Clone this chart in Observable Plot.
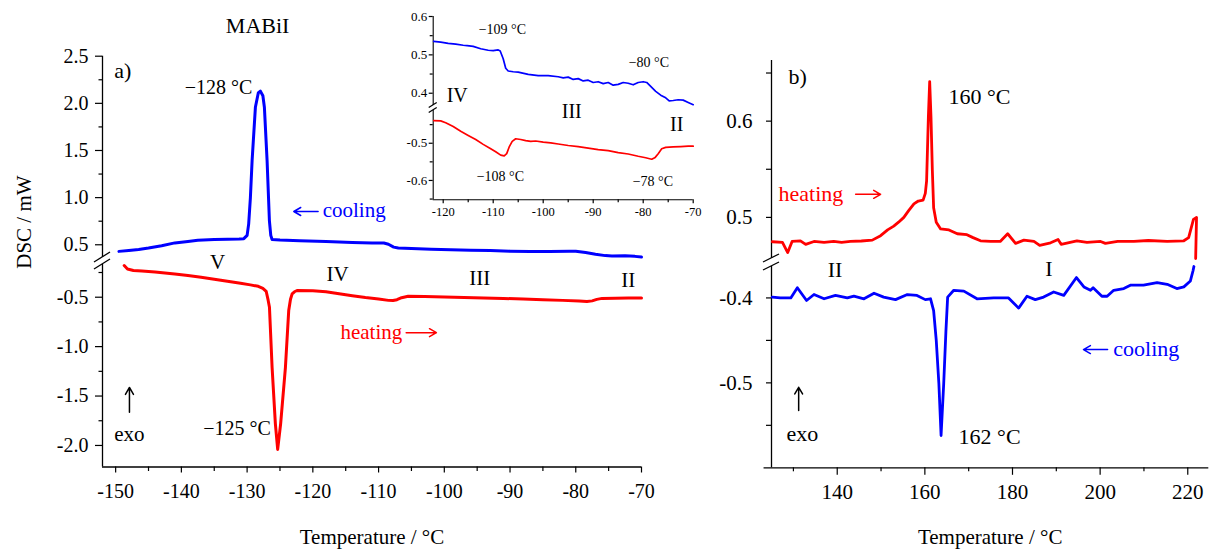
<!DOCTYPE html>
<html><head><meta charset="utf-8">
<script src="https://cdn.jsdelivr.net/npm/d3@7"></script>
<script src="https://cdn.jsdelivr.net/npm/@observablehq/plot@0.6"></script>
<style>
html,body{margin:0;padding:0;background:#fff;}
#chart{position:relative;width:1213px;height:550px;overflow:hidden;font-family:"Liberation Serif",serif;}
</style></head><body><div id="chart"></div>
<script>
const BLUE = "#0000ff", RED = "#ff0000";

// ---------- panel a) main: cooling (upper) ----------
const coolMainT = [-149.5,-148,-146.5,-145,-143,-141,-139,-137.5,-135,-133,-131.2,-130.5,-130,-129.76,-129.5,-129.24,-128.74,-128.3,-127.98,-127.6,-127.37,-126.96,-126.61,-126.4,-126.2,-125,-122,-118,-114,-111,-109.2,-108.5,-107.7,-107,-105,-102,-99,-96,-93,-90,-87,-84,-81,-80,-78.5,-77,-75.5,-74.5,-72.5,-71,-70];
const coolMainV = [0.43,0.44,0.45,0.465,0.49,0.52,0.535,0.548,0.555,0.558,0.56,0.565,0.6,0.722,1.0,1.393,1.958,2.11,2.13,2.08,1.958,1.393,0.757,0.6,0.556,0.55,0.543,0.535,0.525,0.52,0.518,0.505,0.475,0.465,0.46,0.452,0.447,0.443,0.438,0.432,0.428,0.428,0.432,0.432,0.418,0.40,0.385,0.38,0.383,0.377,0.37];
// ---------- panel a) main: heating (lower) ----------
const heatMainT = [-148.7,-148.2,-147.3,-146,-144,-141,-139,-137,-135,-133,-131,-129.5,-128.3,-127.6,-127.1,-126.8,-126.6,-126.2,-125.7,-125.35,-124.9,-124.17,-123.67,-123.4,-123.15,-122.8,-122.4,-120,-118,-116,-114,-112,-110,-108.5,-107.8,-107.2,-106.5,-105.5,-103,-100,-97,-94,-91,-88,-85,-82,-79.5,-78.3,-77.5,-76.8,-76,-74,-72,-70];
const heatMainV = [-0.18,-0.215,-0.23,-0.235,-0.245,-0.265,-0.28,-0.298,-0.318,-0.338,-0.358,-0.375,-0.39,-0.41,-0.44,-0.53,-0.601,-1.209,-1.781,-2.04,-1.781,-1.209,-0.635,-0.52,-0.466,-0.445,-0.432,-0.435,-0.445,-0.465,-0.485,-0.503,-0.518,-0.532,-0.534,-0.525,-0.505,-0.49,-0.493,-0.497,-0.502,-0.507,-0.513,-0.518,-0.525,-0.532,-0.539,-0.543,-0.537,-0.522,-0.512,-0.51,-0.508,-0.508];

// ---------- inset ----------
const coolInsT = [-121.9,-120.5,-119,-117.5,-116,-115.2,-114,-112.5,-111,-110,-109,-108.6,-108,-107.5,-107,-106,-105,-103,-101,-99,-97,-96,-95,-94,-93,-92,-91,-90,-89,-88,-87,-86,-85,-84,-83,-82,-81,-80,-79.3,-78.5,-77.5,-76.5,-75.5,-74.8,-74,-73,-72,-71,-70];
const coolInsV = [0.535,0.533,0.530,0.528,0.525,0.524,0.522,0.516,0.512,0.511,0.513,0.51,0.49,0.465,0.458,0.456,0.455,0.449,0.446,0.446,0.443,0.44,0.442,0.436,0.438,0.432,0.434,0.428,0.43,0.425,0.428,0.421,0.423,0.428,0.426,0.422,0.428,0.430,0.428,0.418,0.405,0.395,0.388,0.380,0.381,0.383,0.382,0.376,0.370];
const heatInsT = [-121.9,-120.5,-119.5,-118,-116.5,-115,-113.5,-112,-110.5,-109.5,-108.5,-107.8,-107.3,-106.8,-106.2,-105.5,-104.5,-103.5,-102.5,-101.5,-100,-98.5,-97,-95,-93,-91,-89,-87,-85,-83,-81,-79.5,-78.3,-77.6,-77,-76.3,-75.5,-74,-72.5,-71,-70];
const heatInsV = [-0.439,-0.44,-0.445,-0.455,-0.468,-0.479,-0.49,-0.503,-0.515,-0.523,-0.532,-0.534,-0.528,-0.51,-0.495,-0.488,-0.49,-0.493,-0.495,-0.494,-0.497,-0.499,-0.502,-0.506,-0.509,-0.513,-0.517,-0.52,-0.525,-0.529,-0.535,-0.539,-0.543,-0.538,-0.528,-0.515,-0.511,-0.51,-0.509,-0.508,-0.508];

// ---------- panel b) ----------
const heatBT = [125.2,127.5,128.7,129.7,131.6,132.8,134.7,137,139.2,141,143,145.5,148,149.9,151.5,152.9,154,155.2,156.3,157.5,158.5,159.6,160.1,160.4,160.8,161.1,161.4,161.7,162.0,162.6,163.6,165.5,167.4,169.6,171,172.7,175,177.2,178.9,180.7,182.6,184.9,186.2,188.7,190.4,191.1,194.7,197,200.1,201.2,204,207.7,211,215.3,219.1,220.2,221.3,222,221.8];
const heatBV = [0.4747,0.474,0.4635,0.475,0.4757,0.472,0.475,0.474,0.475,0.474,0.475,0.4755,0.4764,0.481,0.487,0.491,0.495,0.50,0.507,0.514,0.517,0.518,0.525,0.538,0.604,0.641,0.604,0.55,0.510,0.495,0.488,0.487,0.483,0.482,0.479,0.4757,0.475,0.475,0.483,0.473,0.4764,0.475,0.471,0.4736,0.477,0.472,0.4757,0.474,0.475,0.473,0.475,0.475,0.476,0.475,0.4757,0.479,0.498,0.5,0.4573];
const coolBT = [125.2,127,129.4,130.9,133,134.7,137,139.6,142.3,143.8,146.1,148.4,150.6,153.3,156,158.2,160.1,161.3,162,162.6,163.2,163.7,164.3,164.8,165.2,166.6,168.9,171.9,175.7,179.1,181.4,183.3,185.2,187.1,189.4,191.7,194.6,196.3,197.8,198.4,200.4,201.6,203.1,205.4,206.9,209.9,213,215.3,217.5,219.1,220.6,221.2,221.4];
const coolBV = [-0.399,-0.4,-0.4,-0.388,-0.403,-0.396,-0.401,-0.397,-0.4,-0.398,-0.401,-0.3945,-0.399,-0.402,-0.396,-0.397,-0.402,-0.401,-0.415,-0.45,-0.501,-0.562,-0.501,-0.44,-0.399,-0.391,-0.392,-0.401,-0.4,-0.4,-0.412,-0.398,-0.402,-0.399,-0.393,-0.397,-0.376,-0.387,-0.391,-0.388,-0.398,-0.398,-0.391,-0.389,-0.385,-0.385,-0.382,-0.384,-0.389,-0.387,-0.38,-0.368,-0.363];

// ---------- ticks ----------
const aXMajor = [-150,-140,-130,-120,-110,-100,-90,-80,-70];
const aXMinor = [-145,-135,-125,-115,-105,-95,-85,-75];
const aUpMajor = [0.5,1.0,1.5,2.0,2.5], aUpMinor = [0.75,1.25,1.75,2.25];
const aLoMajor = [-0.5,-1.0,-1.5,-2.0], aLoMinor = [-0.25,-0.75,-1.25,-1.75];
const iXMajor = [-120,-110,-100,-90,-80,-70], iXMinor = [-115,-105,-95,-85,-75];
const iUpMajor = [0.4,0.5,0.6], iUpMinor = [0.45,0.55];
const iLoMajor = [-0.5,-0.6], iLoMinor = [-0.45,-0.55,-0.65];
const bXMajor = [140,160,180,200,220], bXMinor = [130,150,170,190,210];
const bUpMajor = [0.5,0.6], bUpMinor = [0.55,0.65];
const bLoMajor = [-0.4,-0.5], bLoMinor = [-0.45,-0.55];

const pts = (T, V) => T.map((t, i) => ({t, v: V[i]}));
const f1 = d => d.toFixed(1);
const fi = d => String(d);

function panel(frame, xDomain, yDomain, marks) {
  const [l, t, r, b] = frame;
  const svg = Plot.plot({
    width: 1213, height: 550,
    marginLeft: l, marginTop: t, marginRight: 1213 - r, marginBottom: 550 - b,
    x: {domain: xDomain, axis: null},
    y: {domain: yDomain, axis: null},
    style: "position:absolute;left:0;top:0;background:transparent;overflow:visible;max-width:none;font-family:'Liberation Serif',serif;color:#000;",
    marks
  });
  document.getElementById("chart").appendChild(svg);
  return svg;
}
function brk(svg, yv, w, h) {
  const sx = svg.scale("x"), sy = svg.scale("y");
  const x = sx.apply(sx.domain[0]), y = sy.apply(yv);
  d3.select(svg).append("line")
    .attr("x1", x - w).attr("y1", y + h).attr("x2", x + w).attr("y2", y - h)
    .attr("stroke", "#000").attr("stroke-width", 1.3);
}
const txt = (items, o) => Plot.text(items, {x: "x", y: "y", text: "s", lineAnchor: "bottom", fill: "#000", ...o});
const yAx = (major, minor, o) => [
  Plot.axisY(major, {anchor: "left", tickSize: o.ts, tickPadding: o.tp, tickFormat: f1, fontSize: o.fs, label: null, strokeWidth: 1.2}),
  Plot.axisY(minor, {anchor: "left", tickSize: o.ms, fill: "none", tickFormat: () => "", label: null, strokeWidth: 1.2})
];
const xAx = (major, minor, o) => [
  Plot.axisX(major, {anchor: "bottom", tickSize: o.ts, tickPadding: o.tp, tickFormat: fi, fontSize: o.fs, label: null, strokeWidth: 1.2}),
  Plot.axisX(minor, {anchor: "bottom", tickSize: o.ms, fill: "none", tickFormat: () => "", label: null, strokeWidth: 1.2})
];

// ===== panel a) upper (cooling) =====
const aX = [-152, -70];
const aU = panel([102, 55.7, 641, 257], aX, [0.365, 2.5], [
  Plot.ruleX([aX[0]], {strokeWidth: 1.3}),
  ...yAx(aUpMajor, aUpMinor, {ts: 7, tp: 7, fs: 20, ms: 3.5}),
  Plot.line(pts(coolMainT, coolMainV), {x: "t", y: "v", stroke: BLUE, strokeWidth: 3}),
  txt([{x: -150.2, y: 2.264, s: "a)"}], {textAnchor: "start", fontSize: 22}),
  txt([{x: -128.4, y: 2.741, s: "MABiI"}], {textAnchor: "middle", fontSize: 22}),
  txt([{x: -129.2, y: 2.104, s: "\u2212128 \u00b0C"}], {textAnchor: "end", fontSize: 20}),
  txt([{x: -118.5, y: 0.79, s: "cooling"}], {textAnchor: "start", fontSize: 21, fill: BLUE}),
  Plot.arrow([{x1: -119.2, x2: -122.9, y: 0.853}], {x1: "x1", x2: "x2", y1: "y", y2: "y", stroke: BLUE, strokeWidth: 1.5, headLength: 8})
]);
brk(aU, 0.365, 8, 5);

// ===== panel a) lower (heating) =====
const aL = panel([102, 264, 641, 466.5], aX, [-2.218, -0.169], [
  Plot.ruleX([aX[0]], {strokeWidth: 1.3}),
  Plot.ruleY([-2.218], {strokeWidth: 1.3}),
  ...yAx(aLoMajor, aLoMinor, {ts: 7, tp: 7, fs: 20, ms: 3.5}),
  ...xAx(aXMajor, aXMinor, {ts: 6, tp: 11, fs: 20, ms: 4.5}),
  Plot.line(pts(heatMainT, heatMainV), {x: "t", y: "v", stroke: RED, strokeWidth: 3}),
  txt([{x: -134.5, y: -0.211, s: "V"}, {x: -116.25, y: -0.332, s: "IV"}, {x: -94.6, y: -0.372, s: "III"}, {x: -72, y: -0.392, s: "II"}], {textAnchor: "middle", fontSize: 21}),
  txt([{x: -115.8, y: -0.927, s: "heating"}], {textAnchor: "start", fontSize: 21, fill: RED}),
  Plot.arrow([{x1: -105.8, x2: -101.2, y: -0.859}], {x1: "x1", x2: "x2", y1: "y", y2: "y", stroke: RED, strokeWidth: 1.5, headLength: 8}),
  txt([{x: -126.4, y: -1.897, s: "\u2212125 \u00b0C"}], {textAnchor: "end", fontSize: 20}),
  txt([{x: -147.9, y: -1.958, s: "exo"}], {textAnchor: "middle", fontSize: 21}),
  Plot.arrow([{x: -147.9, y1: -1.665, y2: -1.413}], {x1: "x", x2: "x", y1: "y1", y2: "y2", stroke: "#000", strokeWidth: 1.5, headLength: 8}),
  Plot.text(["Temperature / \u00b0C"], {frameAnchor: "bottom", text: d => d, lineAnchor: "bottom", dy: 77, fontSize: 21}),
  Plot.text(["DSC / mW"], {frameAnchor: "left", text: d => d, rotate: -90, dx: -78, dy: -97, fontSize: 21})
]);
brk(aL, -0.169, 8, 5);

// ===== inset upper =====
const iX = [-122, -70];
const iU = panel([432.7, 16, 692.7, 105], iX, [0.368, 0.6], [
  Plot.ruleX([iX[0]], {strokeWidth: 1.1}),
  ...yAx(iUpMajor, iUpMinor, {ts: 4, tp: 2, fs: 13, ms: 3}),
  Plot.line(pts(coolInsT, coolInsV), {x: "t", y: "v", stroke: BLUE, strokeWidth: 1.7}),
  txt([{x: -112.9, y: 0.5556, s: "\u2212109 \u00b0C"}, {x: -82.9, y: 0.4693, s: "\u221280 \u00b0C"}], {textAnchor: "start", fontSize: 14}),
  txt([{x: -117.2, y: 0.376, s: "IV"}], {textAnchor: "middle", fontSize: 20})
]);
brk(iU, 0.368, 4, 2.5);

// ===== inset lower =====
const iL = panel([432.7, 110, 692.7, 199.3], iX, [-0.652, -0.412], [
  Plot.ruleX([iX[0]], {strokeWidth: 1.1}),
  Plot.ruleY([-0.652], {strokeWidth: 1.1}),
  ...yAx(iLoMajor, iLoMinor, {ts: 4, tp: 2, fs: 13, ms: 3}),
  ...xAx(iXMajor, iXMinor, {ts: 4, tp: 3, fs: 12.5, ms: 3}),
  Plot.line(pts(heatInsT, heatInsV), {x: "t", y: "v", stroke: RED, strokeWidth: 1.7}),
  txt([{x: -94.3, y: -0.431, s: "III"}, {x: -73.3, y: -0.466, s: "II"}], {textAnchor: "middle", fontSize: 20}),
  txt([{x: -113.3, y: -0.6028, s: "\u2212108 \u00b0C"}, {x: -82.1, y: -0.6162, s: "\u221278 \u00b0C"}], {textAnchor: "start", fontSize: 14})
]);
brk(iL, -0.412, 4, 2.5);

// ===== panel b) upper (heating) =====
const bX = [125, 224.8];
const bU = panel([771, 60, 1208.3, 258], bX, [0.4573, 0.663], [
  Plot.ruleX([bX[0]], {strokeWidth: 1.3}),
  ...yAx(bUpMajor, bUpMinor, {ts: 5, tp: 14, fs: 21, ms: 5}),
  Plot.line(pts(heatBT, heatBV), {x: "t", y: "v", stroke: RED, strokeWidth: 2.8}),
  txt([{x: 128.9, y: 0.639, s: "b)"}], {textAnchor: "start", fontSize: 22}),
  txt([{x: 165.4, y: 0.618, s: "160 \u00b0C"}], {textAnchor: "start", fontSize: 22}),
  txt([{x: 126.6, y: 0.517, s: "heating"}], {textAnchor: "start", fontSize: 22, fill: RED}),
  Plot.arrow([{x1: 144.2, x2: 149.9, y: 0.524}], {x1: "x1", x2: "x2", y1: "y", y2: "y", stroke: RED, strokeWidth: 1.5, headLength: 8})
]);
brk(bU, 0.4573, 8, 4);

// ===== panel b) lower (cooling) =====
const bL = panel([771, 266, 1208.3, 467.3], bX, [-0.6, -0.363], [
  Plot.ruleX([bX[0]], {strokeWidth: 1.3}),
  Plot.ruleY([-0.6], {x1: 123.3, x2: 224.8, strokeWidth: 1.3}),
  ...yAx(bLoMajor, bLoMinor, {ts: 5, tp: 14, fs: 21, ms: 5}),
  ...xAx(bXMajor, bXMinor, {ts: 7.5, tp: 9, fs: 21, ms: 4}),
  Plot.line(pts(coolBT, coolBV), {x: "t", y: "v", stroke: BLUE, strokeWidth: 2.8}),
  txt([{x: 139.5, y: -0.3758, s: "II"}, {x: 188.3, y: -0.3738, s: "I"}], {textAnchor: "middle", fontSize: 22}),
  txt([{x: 203.0, y: -0.4679, s: "cooling"}], {textAnchor: "start", fontSize: 22, fill: BLUE}),
  Plot.arrow([{x1: 201.7, x2: 196.2, y: -0.4608}], {x1: "x1", x2: "x2", y1: "y", y2: "y", stroke: BLUE, strokeWidth: 1.5, headLength: 8}),
  txt([{x: 128.4, y: -0.5687, s: "exo"}], {textAnchor: "start", fontSize: 22}),
  Plot.arrow([{x: 131.2, y1: -0.5326, y2: -0.5052}], {x1: "x", x2: "x", y1: "y1", y2: "y2", stroke: "#000", strokeWidth: 1.5, headLength: 8}),
  txt([{x: 167.7, y: -0.5714, s: "162 \u00b0C"}], {textAnchor: "start", fontSize: 22}),
  Plot.text(["Temperature / \u00b0C"], {frameAnchor: "bottom", text: d => d, lineAnchor: "bottom", dy: 76, fontSize: 21})
]);
brk(bL, -0.363, 8, 4);
</script></body></html>
